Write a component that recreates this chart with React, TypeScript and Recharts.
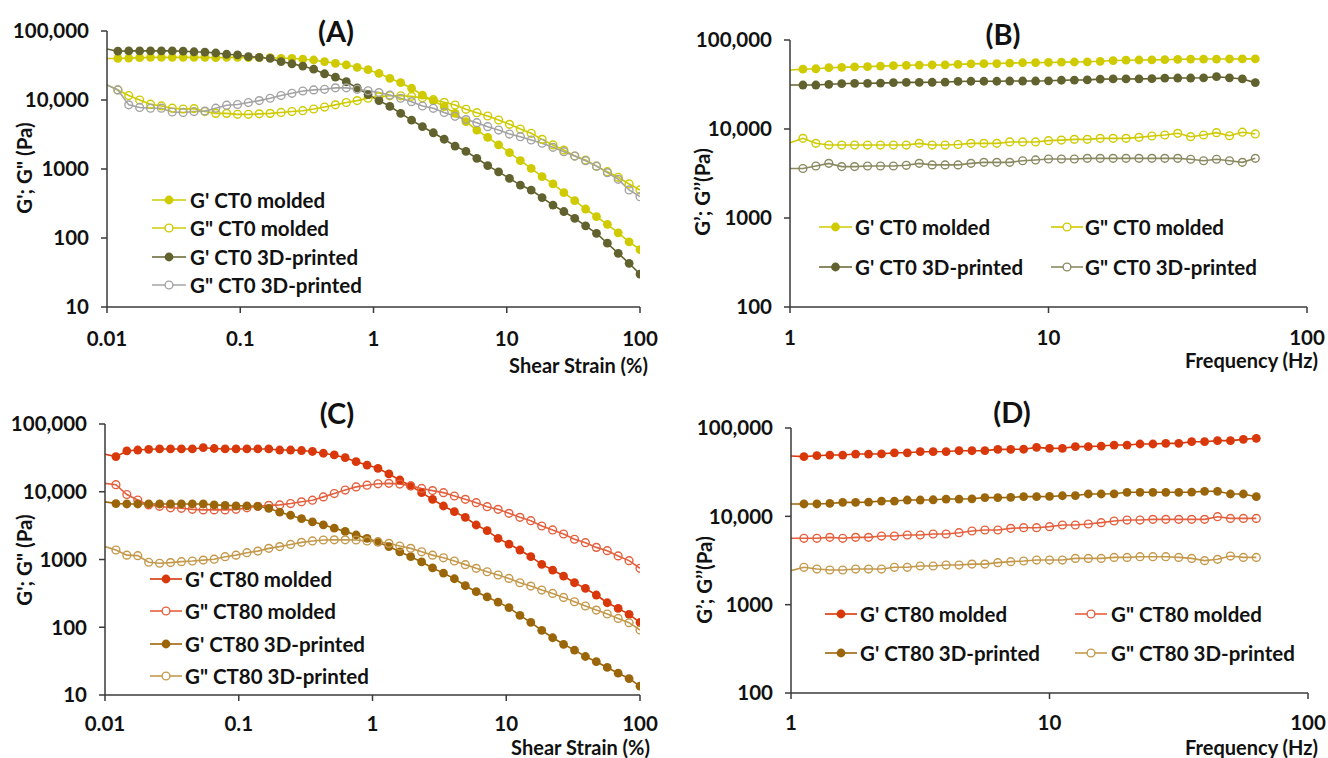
import React from 'react';
import { LineChart, Line, XAxis, YAxis, Legend } from 'recharts';

const FONT = 'Lato, "Open Sans", sans-serif';
const TEXT = '#111111';
const AXIS = '#3a3a3a';

// ---------- x values ----------
const strainPct = [0.01, 0.01207, 0.01456, 0.01758, 0.02121, 0.0256, 0.03089, 0.03728, 0.04499, 0.05429,
  0.06551, 0.07906, 0.09541, 0.1151, 0.1389, 0.1677, 0.2024, 0.2442, 0.2947, 0.3556,
  0.4292, 0.5179, 0.6251, 0.7543, 0.9103, 1.099, 1.326, 1.6, 1.931, 2.33,
  2.812, 3.393, 4.095, 4.942, 5.964, 7.197, 8.685, 10.48, 12.65, 15.26,
  18.42, 22.23, 26.83, 32.37, 39.07, 47.15, 56.9, 68.66, 82.86, 100];

const freqHz = [1, 1.122, 1.259, 1.413, 1.585, 1.778, 1.995, 2.239, 2.512, 2.818,
  3.162, 3.548, 3.981, 4.467, 5.012, 5.623, 6.31, 7.079, 7.943, 8.913,
  10, 11.22, 12.59, 14.13, 15.85, 17.78, 19.95, 22.39, 25.12, 28.18,
  31.62, 35.48, 39.81, 44.67, 50.12, 56.23, 63.1];

// ---------- Panel A: CT0 strain sweep ----------
const gpMoldedCT0Strain = [40000, 40000, 40500, 41000, 41500, 41500, 41500, 41500, 41500, 41500,
  41000, 41500, 41500, 41000, 41000, 41000, 40200, 40200, 39000, 38000,
  36000, 34000, 32200, 29800, 27500, 24300, 20600, 17800, 14800, 11800,
  9800, 8000, 6400, 4850, 3670, 2880, 2230, 1730, 1320, 1020,
  775, 607, 454, 348, 263, 204, 158, 119, 88, 68];
const gppMoldedCT0Strain = [16500, 14000, 11600, 10000, 8700, 8200, 7600, 7400, 7500, 6800,
  6400, 6400, 6200, 6200, 6300, 6400, 6600, 6800, 7000, 7400,
  7900, 8500, 9200, 9800, 10600, 11200, 11500, 11500, 11300, 10800,
  10100, 9250, 8470, 7330, 6550, 5860, 5130, 4440, 3800, 3290,
  2690, 2230, 1880, 1540, 1350, 1100, 914, 758, 607, 497];
const gp3dCT0Strain = [55000, 51000, 51500, 51500, 51500, 51500, 51500, 51000, 50000, 49500,
  48000, 46000, 45000, 42500, 41500, 40000, 36000, 33500, 31000, 28000,
  24000, 21500, 18400, 15000, 12000, 9800, 8100, 6400, 5100, 4100,
  3350, 2700, 2150, 1800, 1430, 1120, 910, 730, 585, 495,
  385, 300, 242, 193, 150, 117, 84, 60, 43, 30];
const gpp3dCT0Strain = [16500, 14000, 8500, 7800, 7600, 7600, 6700, 6600, 6800, 6900,
  7600, 8400, 8600, 9200, 9800, 10600, 11600, 12500, 13500, 14000,
  14300, 15000, 15000, 14300, 13600, 12800, 11800, 10600, 9460, 8180,
  7580, 6600, 5800, 5200, 4690, 4110, 3670, 3210, 2940, 2630,
  2360, 2060, 1780, 1540, 1320, 1100, 885, 708, 497, 397];

// ---------- Panel B: CT0 frequency sweep ----------
const gpMoldedCT0Freq = [46000, 47000, 47500, 48800, 49300, 49900, 50200, 50900, 51400, 52000,
  52300, 52400, 52600, 53200, 53900, 54200, 54400, 55000, 55500, 55700,
  55900, 56400, 56600, 56900, 57600, 58800, 59300, 59600, 59800, 60100,
  60700, 61000, 61100, 61100, 61200, 61300, 61300];
const gppMoldedCT0Freq = [7000, 7850, 6900, 6600, 6600, 6600, 6600, 6600, 6600, 6600,
  6900, 6600, 6600, 6700, 6900, 6900, 6900, 7150, 7150, 7150,
  7400, 7500, 7650, 7650, 7850, 7850, 7850, 8060, 8340, 8560,
  8940, 8200, 8560, 9100, 8400, 9200, 8800];
const gp3dCT0Freq = [31200, 31200, 31200, 31800, 32300, 32600, 32600, 32800, 33200, 33400,
  33400, 33500, 33700, 34200, 34400, 34400, 34400, 34600, 34600, 34600,
  34800, 35300, 35500, 35600, 36300, 36500, 36500, 36600, 36800, 37300,
  37400, 37400, 37600, 38700, 37600, 36500, 33200];
const gpp3dCT0Freq = [3600, 3600, 3840, 4110, 3780, 3780, 3840, 3840, 3840, 3910,
  4110, 3950, 3950, 3950, 4110, 4220, 4220, 4220, 4400, 4490,
  4600, 4600, 4600, 4680, 4680, 4680, 4680, 4680, 4680, 4680,
  4680, 4570, 4400, 4570, 4400, 4220, 4680];

// ---------- Panel C: CT80 strain sweep ----------
const gpMoldedCT80Strain = [35700, 33000, 40000, 41300, 42300, 42800, 42800, 42800, 42800, 44700,
  43500, 42800, 42800, 42800, 42800, 42800, 41300, 41300, 40600, 39300,
  37000, 34900, 31800, 27800, 24800, 22200, 18300, 14900, 12200, 9700,
  7730, 6160, 5080, 4190, 3230, 2670, 2050, 1690, 1380, 1100,
  848, 699, 570, 454, 375, 299, 230, 190, 155, 118];
const gppMoldedCT80Strain = [13300, 12700, 9100, 7550, 6400, 6100, 5800, 5700, 5500, 5400,
  5400, 5400, 5500, 5800, 6100, 6300, 6400, 6700, 7100, 7500,
  8400, 9400, 10600, 11800, 12500, 13100, 13300, 13000, 12200, 11200,
  10400, 9700, 8660, 7730, 6900, 6020, 5500, 4800, 4190, 3740,
  3120, 2730, 2380, 1990, 1770, 1510, 1350, 1130, 962, 741];
const gp3dCT80Strain = [7100, 6700, 6600, 6600, 6600, 6600, 6600, 6600, 6600, 6600,
  6400, 6300, 6200, 6200, 6100, 5700, 5000, 4500, 4000, 3600,
  3250, 2900, 2600, 2300, 2050, 1800, 1550, 1300, 1100, 920,
  750, 630, 520, 410, 335, 280, 235, 195, 150, 118,
  90, 70, 56, 46, 37, 31, 25.5, 21, 17.5, 13.5];
const gpp3dCT80Strain = [1550, 1380, 1160, 1140, 910, 880, 900, 930, 950, 980,
  1010, 1100, 1160, 1260, 1330, 1460, 1550, 1670, 1790, 1880,
  1940, 1950, 1950, 1940, 1880, 1830, 1730, 1580, 1460, 1300,
  1160, 1060, 950, 840, 740, 660, 590, 526, 454, 405,
  354, 316, 276, 238, 206, 179, 157, 135, 117, 91];

// ---------- Panel D: CT80 frequency sweep ----------
const gpMoldedCT80Freq = [48200, 47400, 48600, 49400, 49400, 50700, 50700, 50900, 52400, 52400,
  53900, 53900, 54100, 55300, 55300, 55500, 57300, 57300, 57500, 60400,
  58800, 58900, 61500, 61500, 62500, 64100, 64100, 65900, 65900, 67000,
  67000, 70000, 70000, 71900, 71900, 74400, 76400];
const gppMoldedCT80Freq = [5640, 5640, 5640, 5780, 5640, 5780, 5780, 5980, 5980, 6150,
  6150, 6310, 6310, 6530, 6820, 7000, 7000, 7310, 7440, 7440,
  7640, 7980, 7980, 8190, 8480, 8860, 9080, 9080, 9240, 9240,
  9240, 9240, 9240, 9900, 9480, 9480, 9480];
const gp3dCT80Freq = [13800, 13800, 13800, 14000, 14400, 14400, 14500, 14900, 14900, 15300,
  15300, 15400, 15700, 15700, 15800, 16300, 16300, 16400, 16700, 16700,
  16800, 17100, 17200, 17900, 17900, 18000, 18700, 18700, 18700, 18700,
  18700, 18800, 19200, 19200, 17900, 17900, 16700];
const gpp3dCT80Freq = [2430, 2650, 2530, 2470, 2470, 2530, 2530, 2530, 2650, 2650,
  2740, 2740, 2810, 2810, 2880, 2880, 2990, 3070, 3120, 3200,
  3200, 3200, 3340, 3340, 3340, 3430, 3430, 3490, 3490, 3490,
  3430, 3340, 3150, 3260, 3550, 3430, 3430];

// ---------- ticks ----------
const yTicksStrain = [10, 100, 1000, 10000, 100000];
const yTickLabelsStrain = ['10', '100', '1000', '10,000', '100,000'];
const yTicksFreq = [100, 1000, 10000, 100000];
const yTickLabelsFreq = ['100', '1000', '10,000', '100,000'];
const xTicksStrain = [0.01, 0.1, 1, 10, 100];
const xTickLabelsStrain = ['0.01', '0.1', '1', '10', '100'];
const xTicksFreq = [1, 10, 100];
const xTickLabelsFreq = ['1', '10', '100'];

// ---------- colours ----------
const YELLOW = '#CFCB00';
const OLIVE = '#62622F';
const GREY = '#A3A3A3';
const OLIVE_GREY = '#8A8A62';
const RED = '#D9380A';
const RED_LIGHT = '#E5603E';
const BROWN = '#9B660A';
const TAN = '#C4994C';

type SeriesDef = { key: string; name: string; values: number[]; color: string; hollow: boolean };

const seriesA: SeriesDef[] = [
  { key: 'a1', name: "G' CT0 molded", values: gpMoldedCT0Strain, color: YELLOW, hollow: false },
  { key: 'a2', name: 'G" CT0 molded', values: gppMoldedCT0Strain, color: YELLOW, hollow: true },
  { key: 'a3', name: "G' CT0 3D-printed", values: gp3dCT0Strain, color: OLIVE, hollow: false },
  { key: 'a4', name: 'G" CT0 3D-printed', values: gpp3dCT0Strain, color: GREY, hollow: true },
];
const seriesB: SeriesDef[] = [
  { key: 'b1', name: "G' CT0 molded", values: gpMoldedCT0Freq, color: YELLOW, hollow: false },
  { key: 'b2', name: 'G" CT0 molded', values: gppMoldedCT0Freq, color: YELLOW, hollow: true },
  { key: 'b3', name: "G' CT0 3D-printed", values: gp3dCT0Freq, color: OLIVE, hollow: false },
  { key: 'b4', name: 'G" CT0 3D-printed', values: gpp3dCT0Freq, color: OLIVE_GREY, hollow: true },
];
const seriesC: SeriesDef[] = [
  { key: 'c1', name: "G' CT80 molded", values: gpMoldedCT80Strain, color: RED, hollow: false },
  { key: 'c2', name: 'G" CT80 molded', values: gppMoldedCT80Strain, color: RED_LIGHT, hollow: true },
  { key: 'c3', name: "G' CT80 3D-printed", values: gp3dCT80Strain, color: BROWN, hollow: false },
  { key: 'c4', name: 'G" CT80 3D-printed', values: gpp3dCT80Strain, color: TAN, hollow: true },
];
const seriesD: SeriesDef[] = [
  { key: 'd1', name: "G' CT80 molded", values: gpMoldedCT80Freq, color: RED, hollow: false },
  { key: 'd2', name: 'G" CT80 molded', values: gppMoldedCT80Freq, color: RED_LIGHT, hollow: true },
  { key: 'd3', name: "G' CT80 3D-printed", values: gp3dCT80Freq, color: BROWN, hollow: false },
  { key: 'd4', name: 'G" CT80 3D-printed', values: gpp3dCT80Freq, color: TAN, hollow: true },
];

function buildRows(xs: number[], series: SeriesDef[]) {
  return xs.map((x, i) => {
    const r: Record<string, number> = { x };
    series.forEach((s) => { r[s.key] = s.values[i]; });
    return r;
  });
}

const makeDot = (color: string, hollow: boolean) => (props: any) => {
  const { cx, cy, index } = props;
  const k = `dot-${index}`;
  if (index === 0 || cx == null || cy == null) return <g key={k} />;
  return hollow
    ? <circle key={k} cx={cx} cy={cy} r={3.9} fill="none" stroke={color} strokeWidth={1.4} />
    : <circle key={k} cx={cx} cy={cy} r={4.4} fill={color} stroke="none" />;
};

type LegendItem = { s: number; y: number; x1: number; x2: number; tx: number };

type PanelProps = {
  left: number; top: number; width: number; height: number;
  margin: { top: number; right: number; bottom: number; left: number };
  yAxisWidth: number;
  xs: number[]; series: SeriesDef[];
  xDomain: [number, number]; xTicks: number[]; xTickLabels: string[]; xTickMargin: number;
  yDomain: [number, number]; yTicks: number[]; yTickLabels: string[];
  legend: LegendItem[];
  title: string; titlePos: [number, number];
  xTitle: string; xTitlePos: [number, number];
  yTitle: string; yTitlePos: [number, number];
};

const textBase: React.CSSProperties = {
  position: 'absolute', fontFamily: FONT, fontWeight: 700, color: TEXT,
  whiteSpace: 'nowrap', lineHeight: 1,
};

function Panel(p: PanelProps) {
  const rows = buildRows(p.xs, p.series);
  const tickStyle = { fill: TEXT, fontSize: 20.5, fontWeight: 700, fontFamily: FONT };
  const legendContent = () => (
    <svg width={p.width} height={p.height} style={{ overflow: 'visible' }}>
      {p.legend.map((it, i) => {
        const s = p.series[it.s];
        const mx = (it.x1 + it.x2) / 2;
        return (
          <g key={i}>
            <line x1={it.x1} y1={it.y} x2={it.x2} y2={it.y} stroke={s.color} strokeWidth={1.6} />
            {s.hollow
              ? <circle cx={mx} cy={it.y} r={3.9} fill="#fff" stroke={s.color} strokeWidth={1.4} />
              : <circle cx={mx} cy={it.y} r={4.4} fill={s.color} />}
            <text x={it.tx} y={it.y} dominantBaseline="central" fontFamily={FONT} fontWeight={700}
              fontSize={20.5} fill={TEXT}>{s.name}</text>
          </g>
        );
      })}
    </svg>
  );
  return (
    <div style={{ position: 'absolute', left: p.left, top: p.top, width: p.width, height: p.height }}>
      <LineChart width={p.width} height={p.height} data={rows} margin={p.margin}>
        <XAxis dataKey="x" type="number" scale="log" domain={p.xDomain} ticks={p.xTicks}
          allowDataOverflow interval={0} height={40} tickSize={6} tickMargin={p.xTickMargin}
          tickFormatter={(v: number) => p.xTickLabels[p.xTicks.indexOf(v)] ?? String(v)}
          axisLine={{ stroke: AXIS, strokeWidth: 1.5 }} tickLine={{ stroke: AXIS, strokeWidth: 1.5 }}
          tick={tickStyle} />
        <YAxis type="number" scale="log" domain={p.yDomain} ticks={p.yTicks}
          allowDataOverflow interval={0} width={p.yAxisWidth} tickSize={6} tickMargin={12}
          tickFormatter={(v: number) => p.yTickLabels[p.yTicks.indexOf(v)] ?? String(v)}
          axisLine={{ stroke: AXIS, strokeWidth: 1.5 }} tickLine={{ stroke: AXIS, strokeWidth: 1.5 }}
          tick={tickStyle} />
        {p.series.map((s) => (
          <Line key={s.key} dataKey={s.key} name={s.name} type="linear" stroke={s.color}
            strokeWidth={1.6} dot={makeDot(s.color, s.hollow)} activeDot={false}
            isAnimationActive={false} />
        ))}
        <Legend layout="vertical" align="center" verticalAlign="middle"
          wrapperStyle={{ left: 0, top: 0, width: p.width, height: p.height, pointerEvents: 'none' }}
          content={legendContent} />
      </LineChart>
      <div style={{ ...textBase, fontSize: 29, left: p.titlePos[0], top: p.titlePos[1], transform: 'translate(-50%,-50%)' }}>{p.title}</div>
      <div style={{ ...textBase, fontSize: 20, left: p.xTitlePos[0], top: p.xTitlePos[1], transform: 'translate(-100%,-50%)' }}>{p.xTitle}</div>
      <div style={{ ...textBase, fontSize: 20.5, left: p.yTitlePos[0], top: p.yTitlePos[1], transform: 'translate(-50%,-50%) rotate(-90deg)' }}>{p.yTitle}</div>
    </div>
  );
}

export default function App() {
  return (
    <div style={{ position: 'absolute', left: 0, top: 0, width: 1328, height: 758, background: '#fff', overflow: 'hidden' }}>
      <Panel left={0} top={0} width={664} height={379}
        margin={{ top: 31, right: 24, bottom: 32, left: 0 }} yAxisWidth={107}
        xs={strainPct} series={seriesA}
        xDomain={[0.01, 100]} xTicks={xTicksStrain} xTickLabels={xTickLabelsStrain} xTickMargin={18}
        yDomain={[10, 100000]} yTicks={yTicksStrain} yTickLabels={yTickLabelsStrain}
        legend={[
          { s: 0, y: 200, x1: 152, x2: 186, tx: 190 },
          { s: 1, y: 228, x1: 152, x2: 186, tx: 190 },
          { s: 2, y: 257, x1: 152, x2: 186, tx: 190 },
          { s: 3, y: 285, x1: 152, x2: 186, tx: 190 },
        ]}
        title="(A)" titlePos={[336, 30]}
        xTitle="Shear Strain (%)" xTitlePos={[648, 365]}
        yTitle={'G\'; G" (Pa)'} yTitlePos={[24, 168]} />
      <Panel left={664} top={0} width={664} height={379}
        margin={{ top: 40, right: 21, bottom: 32, left: 0 }} yAxisWidth={126}
        xs={freqHz} series={seriesB}
        xDomain={[1, 100]} xTicks={xTicksFreq} xTickLabels={xTickLabelsFreq} xTickMargin={17}
        yDomain={[100, 100000]} yTicks={yTicksFreq} yTickLabels={yTickLabelsFreq}
        legend={[
          { s: 0, y: 227, x1: 155, x2: 188, tx: 191 },
          { s: 1, y: 227, x1: 387, x2: 419, tx: 421 },
          { s: 2, y: 267, x1: 155, x2: 188, tx: 191 },
          { s: 3, y: 267, x1: 387, x2: 419, tx: 421 },
        ]}
        title="(B)" titlePos={[339, 33]}
        xTitle="Frequency (Hz)" xTitlePos={[654, 360]}
        yTitle={'G’; G’’(Pa)'} yTitlePos={[38, 192]} />
      <Panel left={0} top={379} width={664} height={379}
        margin={{ top: 45, right: 24, bottom: 23, left: 0 }} yAxisWidth={105}
        xs={strainPct} series={seriesC}
        xDomain={[0.01, 100]} xTicks={xTicksStrain} xTickLabels={xTickLabelsStrain} xTickMargin={15}
        yDomain={[10, 100000]} yTicks={yTicksStrain} yTickLabels={yTickLabelsStrain}
        legend={[
          { s: 0, y: 200, x1: 150, x2: 182, tx: 185 },
          { s: 1, y: 232, x1: 150, x2: 182, tx: 185 },
          { s: 2, y: 265, x1: 150, x2: 182, tx: 185 },
          { s: 3, y: 297, x1: 150, x2: 182, tx: 185 },
        ]}
        title="(C)" titlePos={[337, 33]}
        xTitle="Shear Strain (%)" xTitlePos={[650, 368]}
        yTitle={'G\'; G" (Pa)'} yTitlePos={[24, 181]} />
      <Panel left={664} top={379} width={664} height={379}
        margin={{ top: 49, right: 20, bottom: 25, left: 0 }} yAxisWidth={127}
        xs={freqHz} series={seriesD}
        xDomain={[1, 100]} xTicks={xTicksFreq} xTickLabels={xTickLabelsFreq} xTickMargin={16}
        yDomain={[100, 100000]} yTicks={yTicksFreq} yTickLabels={yTickLabelsFreq}
        legend={[
          { s: 0, y: 235, x1: 161, x2: 193, tx: 196 },
          { s: 1, y: 235, x1: 411, x2: 443, tx: 447 },
          { s: 2, y: 274, x1: 161, x2: 193, tx: 196 },
          { s: 3, y: 274, x1: 411, x2: 443, tx: 447 },
        ]}
        title="(D)" titlePos={[348, 32]}
        xTitle="Frequency (Hz)" xTitlePos={[654, 368]}
        yTitle={'G’; G’’(Pa)'} yTitlePos={[40, 201]} />
    </div>
  );
}
